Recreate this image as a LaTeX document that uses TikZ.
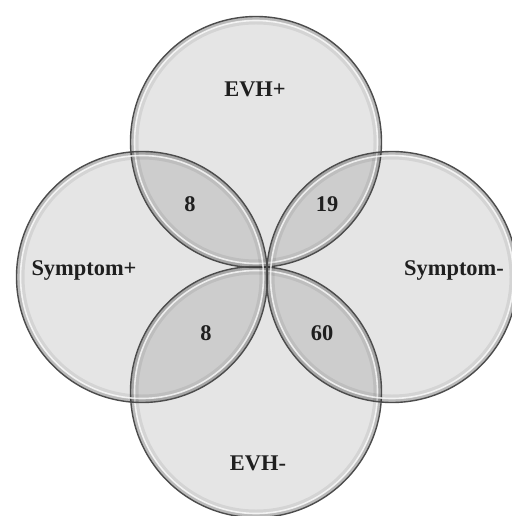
\documentclass[tikz,border=0pt]{standalone}
\usepackage{fontspec}
\setmainfont{Liberation Serif}
\begin{document}
\begin{tikzpicture}[x=1bp,y=-1bp,
  lbl/.style={font=\fontsize{22.5}{26}\selectfont\bfseries, text=black!88, inner sep=0pt, anchor=center},
  rim/.style={draw=black!70, line width=1.4bp}]
\useasboundingbox[fill=white] (0,0) rectangle (512,516);
\def\R{125.5}
\def\Ri{121.5}
\coordinate (T) at (256,142);
\coordinate (B) at (256,392);
\coordinate (L) at (142,277);
\coordinate (R) at (392,277);
% base fills (overlaps darker)
\foreach \cc in {T,B,L,R}
  \fill[black, fill opacity=0.10] (\cc) circle[radius=\R bp];
% glossy rims
\foreach \cc in {T,B,L,R}{
  \begin{scope}
    \clip (\cc) circle[radius=\R bp];
    \draw[black, opacity=0.07, line width=16bp] (\cc) circle[radius=\R bp];
    \draw[black, opacity=0.12, line width=7bp] (\cc) circle[radius=\R bp];
    \draw[white, opacity=0.75, line width=1.6bp] (\cc) circle[radius=\Ri bp];
  \end{scope}
  \draw[rim] (\cc) circle[radius=\R bp];
}
% labels
\node[lbl] (evhp) at (255,89) {EVH+};
\node[lbl] (evhm) at (258,463) {EVH-};
\node[lbl] (symp) at (84,270) {Symptom+};
\node[lbl] (symm) at (454,270) {Symptom-};
\node[lbl] (n1) at (190,204) {8};
\node[lbl] (n2) at (327,204) {19};
\node[lbl] (n3) at (206,333) {8};
\node[lbl] (n4) at (322,333) {60};
\end{tikzpicture}
\end{document}
